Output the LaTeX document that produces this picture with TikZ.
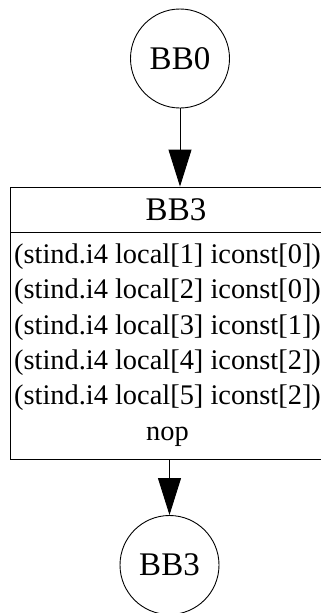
\documentclass[tikz,border=0pt]{standalone}
\usepackage{fontspec}
\setmainfont{Liberation Serif}
\usetikzlibrary{positioning,arrows.meta}

\begin{document}
\begin{tikzpicture}[x=1pt, y=-1pt,
    blocknode/.style={circle, draw, line width=0.9pt, minimum size=99pt, inner sep=0pt,
        font=\fontsize{33}{38}\selectfont},
    recpart/.style={draw, line width=0.9pt, minimum width=332pt, inner sep=0pt},
    edge/.style={line width=0.9pt, -{Triangle[length=37pt, width=23pt]}}]
    % --- Configuration ---
    \def\boxL{10}     % left edge of the record
    \def\boxR{342}    % right edge (cut off by the page)

    % --- Page ---
    \useasboundingbox (0,0) rectangle (321,613);

    % --- Entry block ---
    \node[blocknode] (bb0) at (180,58.5) {BB0};

    % --- Record for BB3 ---
    \node[recpart, minimum height=45pt, font=\fontsize{33}{38}\selectfont] (head) at (176,209.5) {BB3};
    \node[recpart, minimum height=227pt, below=0pt of head] (body) {};
    \node[align=center, inner sep=0pt, font=\fontsize{28.4}{35.4}\selectfont] (code) at (167.5,345) {%
        (stind.i4 local[1] iconst[0])\\
        (stind.i4 local[2] iconst[0])\\
        (stind.i4 local[3] iconst[1])\\
        (stind.i4 local[4] iconst[2])\\
        (stind.i4 local[5] iconst[2])\\
        nop};

    % --- Exit block ---
    \node[blocknode] (bb3) at (169.5,565) {BB3};

    % --- Edges ---
    \draw[edge] (bb0) -- (head.north -| bb0);
    \draw[edge] (body.south -| bb3) -- (bb3);

\end{tikzpicture}
\end{document}
